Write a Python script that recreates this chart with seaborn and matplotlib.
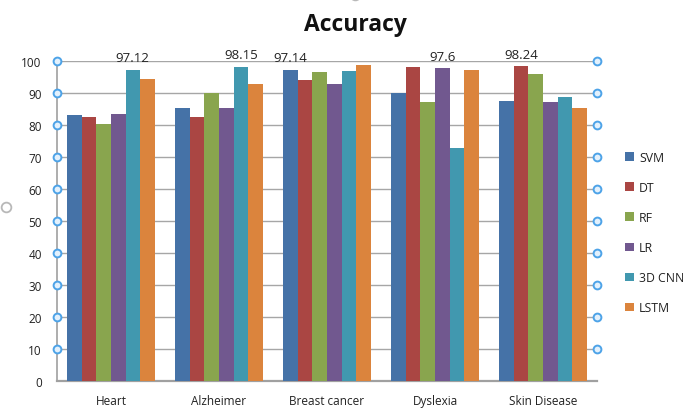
import matplotlib
matplotlib.use("Agg")
import matplotlib.pyplot as plt
from matplotlib.lines import Line2D
from matplotlib.patches import Patch
import matplotlib.transforms as mtransforms
import seaborn as sns
import pandas as pd

# Accuracy (%) of each model on each dataset
diseases = ["Heart", "Alzheimer", "Breast cancer", "Dyslexia", "Skin Disease"]
models = ["SVM", "DT", "RF", "LR", "3D CNN", "LSTM"]
svm = [83.0, 85.2, 97.14, 90.0, 87.5]
dt = [82.3, 82.3, 94.0, 98.1, 98.24]
rf = [80.2, 90.0, 96.6, 87.1, 95.8]
lr = [83.3, 85.2, 92.8, 97.6, 87.1]
cnn3d = [97.12, 98.15, 96.7, 72.7, 88.6]
lstm = [94.4, 92.8, 98.6, 97.0, 85.2]
# (disease, model) pairs whose value is printed above the bar
labelled = [("Heart", "3D CNN"), ("Alzheimer", "3D CNN"), ("Breast cancer", "SVM"),
            ("Dyslexia", "LR"), ("Skin Disease", "DT")]
y_ticks = list(range(0, 101, 10))

colors = ["#4572A7", "#AA4643", "#89A54E", "#71588F", "#4198AF", "#DB843D"]

series = dict(zip(models, [svm, dt, rf, lr, cnn3d, lstm]))
rows = [(d, m, series[m][i]) for m in models for i, d in enumerate(diseases)]
df = pd.DataFrame(rows, columns=["Disease", "Model", "Accuracy"])

sns.set_theme(style="white")
plt.rcParams["font.family"] = ["Open Sans", "DejaVu Sans"]

fig = plt.figure(figsize=(6.88, 4.10), dpi=100)
ax = fig.add_axes([57 / 688, 1 - 381.7 / 410, 540 / 688, 320 / 410])

sns.barplot(data=df, x="Disease", y="Accuracy", hue="Model", order=diseases,
            hue_order=models, palette=colors, saturation=1, width=0.806,
            errorbar=None, legend=False, ax=ax, linewidth=0, zorder=3)

ax.set_ylim(0, 100)
ax.set_xlim(-0.5, len(diseases) - 0.5)
ax.set_yticks(y_ticks)
ax.set_yticklabels([str(t) for t in y_ticks], fontsize=8.5, color="#222222")
ax.tick_params(axis="y", length=0, pad=11)
ax.tick_params(axis="x", length=0, pad=9.5, labelsize=8.5, labelcolor="#222222")
ax.set_xlabel("")
ax.set_ylabel("")

ax.yaxis.grid(True, color="#a6a6a6", linewidth=1.0, zorder=0)
ax.set_axisbelow(True)
for side in ("top", "right"):
    ax.spines[side].set_visible(False)
ax.spines["left"].set_color("#a0a0a0")
ax.spines["left"].set_linewidth(1.2)
ax.spines["bottom"].set_color("#a0a0a0")
ax.spines["bottom"].set_linewidth(1.6)

# value labels above the highlighted bars
for m_idx, (m, cont) in enumerate(zip(models, ax.containers)):
    labels = []
    for d_idx, d in enumerate(diseases):
        labels.append(f"{series[m][d_idx]:g}" if (d, m) in labelled else "")
    ax.bar_label(cont, labels=labels, padding=4, fontsize=9.5, color="#222222",
                 clip_on=False)

# axis handles on both sides of the value axis
blend = mtransforms.blended_transform_factory(ax.transAxes, ax.transData)
for xpos in (0, 1):
    ax.plot([xpos] * (len(y_ticks) - 1), y_ticks[1:], linestyle="none",
            marker="o", markersize=5.6, markerfacecolor="#e3f1fd",
            markeredgecolor="#4da3e8", markeredgewidth=1.4,
            transform=blend, clip_on=False, zorder=5)

# chart-area handles partly off the canvas
for fx, fy in ((6 / 688, 1 - 208 / 410), (355 / 688, 1 + 4 / 410)):
    fig.add_artist(Line2D([fx], [fy], marker="o", markersize=7,
                          markerfacecolor="none", markeredgecolor="#b8b8b8",
                          markeredgewidth=1.3, transform=fig.transFigure))

fig.text(355 / 688, 1 - 25 / 410, "Accuracy", ha="center", va="center",
         fontsize=16.5, fontweight="bold", color="#111111")

handles = [Patch(facecolor=c, edgecolor="none") for c in colors]
fig.legend(handles, models, loc="center left",
           bbox_to_anchor=(619 / 688, 1 - 233.5 / 410), frameon=False,
           fontsize=8.8, handlelength=0.7, handleheight=0.7, handletextpad=0.45,
           labelspacing=1.4, borderpad=0, labelcolor="#222222")

fig.savefig("out.png", dpi=100, facecolor="white")
